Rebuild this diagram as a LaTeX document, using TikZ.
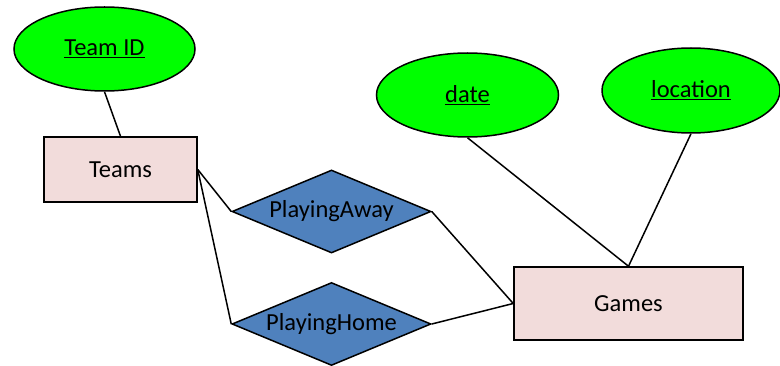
\documentclass[tikz,border=0pt]{standalone}
\usepackage{fontspec}
\setmainfont{Carlito}
\usetikzlibrary{shapes.geometric}
\definecolor{attrgreen}{HTML}{00FF00}
\definecolor{entpink}{HTML}{F2DCDB}
\definecolor{relblue}{HTML}{4F81BD}
\begin{document}
\begin{tikzpicture}[x=1pt,y=-1pt,
  every node/.style={font=\fontsize{24.5}{28}\selectfont, text=black},
  attr/.style={ellipse, draw=black, line width=1.5pt, fill=attrgreen, minimum width=181pt, minimum height=84pt, inner sep=0pt},
  entity/.style={rectangle, draw=black, line width=1.5pt, fill=entpink, inner sep=0pt},
  rel/.style={diamond, aspect=2.4, draw=black, line width=1.5pt, fill=relblue, minimum width=199pt, minimum height=83pt, inner sep=0pt},
  conn/.style={draw=black, line width=1.5pt}]
\useasboundingbox (0,0) rectangle (780,366);
\node[attr] (tid) at (104.5,49) {\underline{Team ID}};
\node[attr, minimum width=182pt] (date) at (467.5,95) {\underline{date}};
\node[attr, minimum width=178pt, minimum height=85pt] (loc) at (691,90.5) {\underline{location}};
\node[entity, minimum width=153pt, minimum height=65pt] (teams) at (120.5,169.5) {Teams};
\node[entity, minimum width=229pt, minimum height=73pt] (games) at (628.5,303.5) {Games};
\node[rel] (away) at (331.5,211.5) {PlayingAway};
\node[rel] (home) at (331.5,324) {PlayingHome};
\draw[conn] (tid.south) -- (teams.north);
\draw[conn] (teams.east) -- (away.west);
\draw[conn] (teams.east) -- (home.west);
\draw[conn] (away.east) -- (games.west);
\draw[conn] (home.east) -- (games.west);
\draw[conn] (date.south) -- (games.north);
\draw[conn] (loc.south) -- (games.north);
\end{tikzpicture}
\end{document}
